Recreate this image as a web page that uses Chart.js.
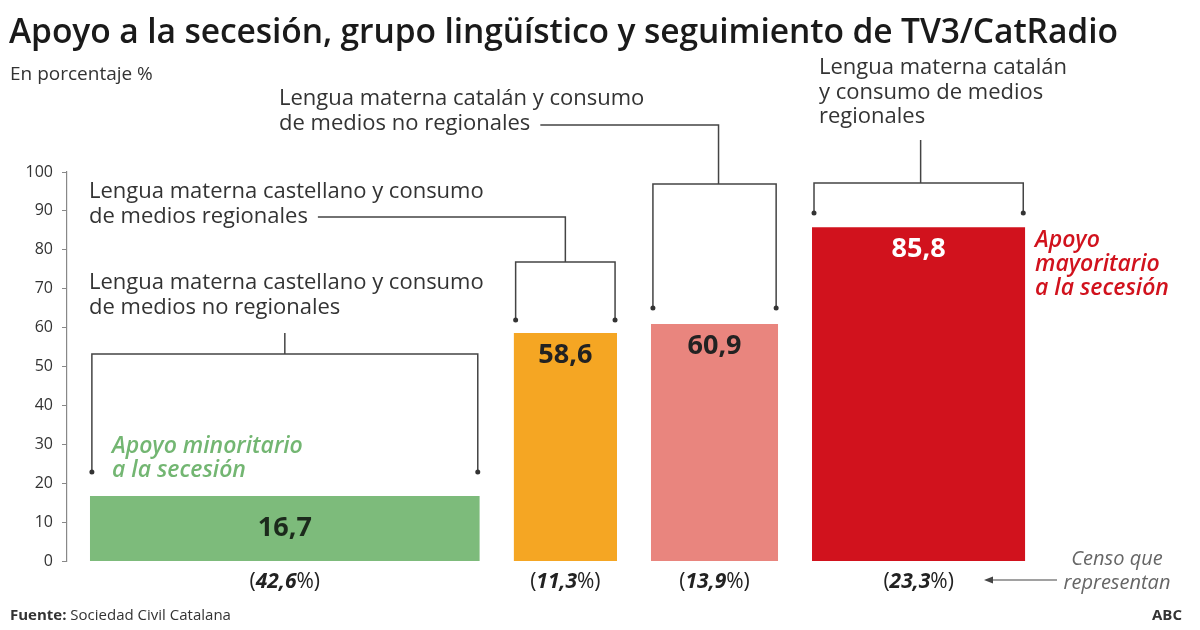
<!DOCTYPE html>
<html lang="es">
<head>
    <meta charset="UTF-8">
    <title>Apoyo a la secesión</title>
    <script src="https://cdn.jsdelivr.net/npm/chart.js"></script>
    <style>
        body { margin: 0; background: #fff; }
        #wrap { position: relative; width: 1200px; height: 630px; font-family: 'Open Sans', sans-serif; color: #222; }
        #wrap div { position: absolute; white-space: nowrap; }
        .title { left: 9px; top: 8px; font-size: 33.6px; font-weight: 600; line-height: 44px; color: #1a1a1a; letter-spacing: -0.1px; }
        .sub { left: 10px; top: 60px; font-size: 19px; line-height: 26px; color: #333; }
        .src { left: 10px; top: 603px; font-size: 15px; line-height: 22px; color: #333; }
        .abc { right: 18px; top: 603px; font-size: 15px; line-height: 22px; font-weight: 700; color: #333; }
        .censo { left: 1054px; top: 546px; font-size: 20px; line-height: 24px; font-style: italic; color: #666; text-align: center; width: 126px; }
    </style>
</head>
<body>
<div id="wrap">
    <canvas id="mychart" width="1200" height="630"></canvas>
    <div class="title">Apoyo a la secesión, grupo lingüístico y seguimiento de TV3/CatRadio</div>
    <div class="sub">En porcentaje %</div>
    <div class="censo">Censo que<br>representan</div>
    <div class="src"><b>Fuente:</b> Sociedad Civil Catalana</div>
    <div class="abc">ABC</div>
</div>
<script>
    // data
    const groups = [
        ['Lengua materna castellano y consumo', 'de medios no regionales'],
        ['Lengua materna castellano y consumo', 'de medios regionales'],
        ['Lengua materna catalán y consumo', 'de medios no regionales'],
        ['Lengua materna catalán', 'y consumo de medios', 'regionales']
    ];
    const support = [16.7, 58.6, 60.9, 85.8];   // % apoyo a la secesión
    const census = [42.6, 11.3, 13.9, 23.3];    // % del censo (ancho de barra)
    const yTicks = [0, 10, 20, 30, 40, 50, 60, 70, 80, 90, 100];

    const colors = ['#7dbb7b', '#f5a623', '#e9857e', '#d1121d'];
    const valueColors = ['#1c2a1c', '#222', '#222', '#fff'];
    const gap = 3.7;

    // left edge of each bar on the x scale
    let starts = [];
    let pos = 0;
    census.forEach(c => { starts.push(pos); pos += c + gap; });

    const datasets = support.map((v, i) => ({
        data: [
            {x: starts[i], y: 0},
            {x: starts[i], y: v},
            {x: starts[i] + census[i], y: v},
            {x: starts[i] + census[i], y: 0}
        ],
        fill: 'origin',
        backgroundColor: colors[i],
        borderWidth: 0,
        pointRadius: 0,
        tension: 0
    }));

    const FONT = "'Open Sans', sans-serif";
    const fmt = v => v.toFixed(1).replace('.', ',');

    function dot(ctx, x, y) {
        ctx.beginPath();
        ctx.arc(x, y, 2.5, 0, Math.PI * 2);
        ctx.fill();
    }

    // bracket: horizontal line above a bar with drop lines ending in dots
    function bracket(ctx, x0, x1, yTop, yEnd) {
        ctx.beginPath();
        ctx.moveTo(x0, yEnd);
        ctx.lineTo(x0, yTop);
        ctx.lineTo(x1, yTop);
        ctx.lineTo(x1, yEnd);
        ctx.stroke();
        dot(ctx, x0, yEnd);
        dot(ctx, x1, yEnd);
    }

    const annotate = {
        id: 'annotate',
        afterDatasetsDraw(chart) {
            const ctx = chart.ctx;
            const xs = chart.scales.x;
            const ys = chart.scales.y;
            const left = starts.map(s => xs.getPixelForValue(s));
            const right = starts.map((s, i) => xs.getPixelForValue(s + census[i]));
            const mid = left.map((l, i) => (l + right[i]) / 2);

            ctx.save();
            ctx.textBaseline = 'middle';

            // values inside bars
            ctx.textAlign = 'center';
            ctx.font = '700 27px ' + FONT;
            support.forEach((v, i) => {
                ctx.fillStyle = valueColors[i];
                const top = ys.getPixelForValue(v);
                const y = i === 0 ? (top + ys.getPixelForValue(0)) / 2 : top + 22;
                ctx.fillText(fmt(v), mid[i], y);
            });

            // census under bars: "(" + bold italic number + "%)"
            census.forEach((c, i) => {
                const parts = [['(', '400 21px '], [fmt(c), 'italic 700 21px '], ['%)', '400 21px ']];
                let w = 0;
                parts.forEach(p => { ctx.font = p[1] + FONT; w += ctx.measureText(p[0]).width; });
                let x = mid[i] - w / 2;
                ctx.textAlign = 'left';
                ctx.fillStyle = '#222';
                parts.forEach(p => {
                    ctx.font = p[1] + FONT;
                    ctx.fillText(p[0], x, 582);
                    x += ctx.measureText(p[0]).width;
                });
            });

            // group labels and brackets
            ctx.strokeStyle = '#444';
            ctx.fillStyle = '#333';
            ctx.lineWidth = 1.5;
            ctx.font = '400 22px ' + FONT;
            ctx.textAlign = 'left';

            // castellano, no regionales
            groups[0].forEach((t, k) => ctx.fillText(t, 89, 283 + k * 25));
            ctx.beginPath(); ctx.moveTo(mid[0], 333); ctx.lineTo(mid[0], 354); ctx.stroke();
            bracket(ctx, left[0] + 2, right[0] - 2, 354, 472);

            // castellano, regionales
            groups[1].forEach((t, k) => ctx.fillText(t, 89, 192 + k * 25));
            let tw = ctx.measureText(groups[1][1]).width;
            ctx.beginPath(); ctx.moveTo(89 + tw + 10, 217); ctx.lineTo(mid[1], 217); ctx.lineTo(mid[1], 262); ctx.stroke();
            bracket(ctx, left[1] + 2, right[1] - 2, 262, 320);

            // catalán, no regionales
            groups[2].forEach((t, k) => ctx.fillText(t, 279, 99 + k * 25));
            tw = ctx.measureText(groups[2][1]).width;
            ctx.beginPath(); ctx.moveTo(279 + tw + 10, 125); ctx.lineTo(mid[2] + 4, 125); ctx.lineTo(mid[2] + 4, 184); ctx.stroke();
            bracket(ctx, left[2] + 2, right[2] - 2, 184, 308);

            // catalán, regionales
            groups[3].forEach((t, k) => ctx.fillText(t, 819, 68 + k * 24.5));
            ctx.beginPath(); ctx.moveTo(mid[3] + 2, 140); ctx.lineTo(mid[3] + 2, 183); ctx.stroke();
            bracket(ctx, left[3] + 2, right[3] - 2, 183, 213);

            // green / red notes
            ctx.font = 'italic 600 23px ' + FONT;
            ctx.fillStyle = '#73b672';
            ['Apoyo minoritario', 'a la secesión'].forEach((t, k) => ctx.fillText(t, 112, 446 + k * 24));
            ctx.fillStyle = '#d1121d';
            ['Apoyo', 'mayoritario', 'a la secesión'].forEach((t, k) => ctx.fillText(t, 1035, 240 + k * 24));

            // arrow to census row
            ctx.strokeStyle = '#444';
            ctx.lineWidth = 1.2;
            ctx.beginPath(); ctx.moveTo(992, 580); ctx.lineTo(1057, 580); ctx.stroke();
            ctx.fillStyle = '#444';
            ctx.beginPath(); ctx.moveTo(984, 580); ctx.lineTo(993, 576.5); ctx.lineTo(993, 583.5); ctx.closePath(); ctx.fill();

            ctx.restore();
        }
    };

    new Chart(document.getElementById('mychart'), {
        type: 'line',
        data: { datasets: datasets },
        options: {
            responsive: false,
            animation: false,
            layout: { padding: { top: 172, bottom: 69, left: 0, right: 10 } },
            plugins: { legend: { display: false }, tooltip: { enabled: false } },
            scales: {
                x: { type: 'linear', min: -2.5, max: 120.2, display: false },
                y: {
                    min: 0, max: 100,
                    afterBuildTicks: s => { s.ticks = yTicks.map(v => ({value: v})); },
                    afterFit: s => { s.width = 67; },
                    grid: { drawOnChartArea: false, tickLength: 5, color: '#888' },
                    border: { color: '#888', width: 1.2 },
                    ticks: { padding: 9, color: '#333', font: { family: 'Open Sans', size: 16 } }
                }
            }
        },
        plugins: [annotate]
    });
</script>
</body>
</html>
